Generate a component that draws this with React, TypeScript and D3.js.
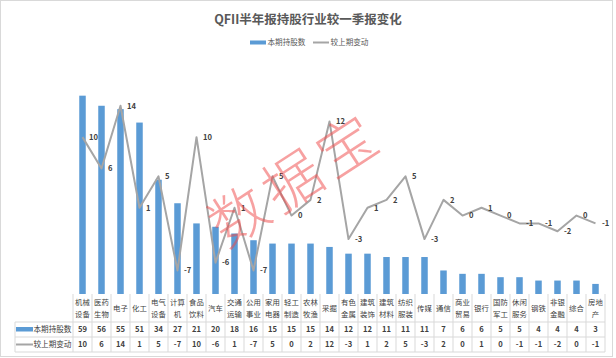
import React from "react";
import * as d3 from "d3";

const categories = ["机械设备","医药生物","电子","化工","电气设备","计算机","食品饮料","汽车","交通运输","公用事业","家用电器","轻工制造","农林牧渔","采掘","有色金属","建筑装饰","建筑材料","纺织服装","传媒","通信","商业贸易","银行","国防军工","休闲服务","钢铁","非银金融","综合","房地产"];
const holdings = [59,56,55,51,34,27,21,20,18,16,15,15,15,14,12,12,11,11,11,7,6,6,5,5,4,4,4,3];
const changes = [10,6,14,1,5,-7,10,-6,1,-7,5,0,2,12,-3,1,2,5,-3,2,0,1,0,-1,-1,-2,0,-1];
const seriesNames = ["本期持股数", "较上期变动"];
const title = "QFII半年报持股行业较一季报变化";
const watermark = "数据宝";

const W = 616, H = 358;
const left = 73, right = 605, plotTop = 58.7, plotBottom = 294;
const tableLeft = 15;
const rowY = [322, 337, 352];
const BAR = "#5B9BD5", LINE = "#A5A5A5", GRID = "#D9D9D9", TXT = "#404040";
const FONT = "'Noto Sans CJK SC', 'Noto Sans', sans-serif";

function splitLabel(s: string): string[] {
  if (s.length <= 2) return [s];
  return [s.slice(0, 2), s.slice(2)];
}

export default function App() {
  const x = d3.scaleBand<string>().domain(categories).range([left, right]).padding(0);
  const yBar = d3.scaleLinear().domain([0, 70]).range([plotBottom, plotTop]);
  const yLine = d3.scaleLinear().domain([-10, 20]).range([plotBottom, plotTop]);
  const cx = (c: string) => (x(c) as number) + x.bandwidth() / 2;
  const barW = 6.5;
  const lineGen = d3.line<number>().x((_, i) => cx(categories[i])).y((d) => yLine(d));

  return (
    <div style={{ position: "fixed", left: 0, top: 0 }}>
      <svg width={W} height={H} style={{ display: "block", fontFamily: FONT }}>
        <rect x={0} y={0} width={W} height={H} fill="#fff" />
        <rect x={0.5} y={0.5} width={612} height={356} fill="none" stroke={GRID} />
        <text x={308} y={23.5} textAnchor="middle" fontSize={12.5} fontWeight="bold" fill="#595959">{title}</text>
        {/* legend */}
        <rect x={250} y={40.5} width={16} height={4} fill={BAR} />
        <text x={267.5} y={45} fontSize={7.6} fill="#595959">{seriesNames[0]}</text>
        <line x1={313} x2={329} y1={42.5} y2={42.5} stroke={LINE} strokeWidth={2} />
        <text x={330.5} y={45} fontSize={7.6} fill="#595959">{seriesNames[1]}</text>
        {/* bars */}
        {categories.map((c, i) => (
          <rect key={c} x={cx(c) - barW / 2} y={yBar(holdings[i])} width={barW} height={plotBottom - yBar(holdings[i])} fill={BAR} />
        ))}
        {/* line */}
        <path d={lineGen(changes) || ""} fill="none" stroke={LINE} strokeWidth={2} strokeLinejoin="round" />
        {categories.map((c, i) => (
          <text key={"l" + c} x={cx(c) + 6.5} y={yLine(changes[i]) + 2.8} fontSize={7.6} fontWeight="bold" fill={TXT}>{changes[i]}</text>
        ))}
        {/* table */}
        {rowY.map((y) => (
          <line key={"h" + y} x1={tableLeft} x2={right} y1={y} y2={y} stroke={GRID} strokeWidth={1} />
        ))}
        <line x1={tableLeft} x2={tableLeft} y1={rowY[0]} y2={rowY[2]} stroke={GRID} />
        {d3.range(categories.length + 1).map((k) => {
          const xx = left + k * x.bandwidth();
          return <line key={"v" + k} x1={xx} x2={xx} y1={plotBottom} y2={rowY[2]} stroke={GRID} />;
        })}
        {categories.map((c) => {
          const lines = splitLabel(c);
          return (
            <text key={"c" + c} x={cx(c)} textAnchor="middle" fontSize={7.4} fill={TXT}>
              {lines.length === 1 ? (
                <tspan x={cx(c)} y={310.5}>{lines[0]}</tspan>
              ) : (
                <>
                  <tspan x={cx(c)} y={304.5}>{lines[0]}</tspan>
                  <tspan x={cx(c)} y={316.5}>{lines[1]}</tspan>
                </>
              )}
            </text>
          );
        })}
        {categories.map((c, i) => (
          <text key={"v1" + c} x={cx(c)} y={332.3} textAnchor="middle" fontSize={7.6} fontWeight="bold" fill={TXT}>{holdings[i]}</text>
        ))}
        {categories.map((c, i) => (
          <text key={"v2" + c} x={cx(c)} y={347.3} textAnchor="middle" fontSize={7.6} fontWeight="bold" fill={TXT}>{changes[i]}</text>
        ))}
        <rect x={16} y={327} width={17} height={4.5} fill={BAR} />
        <text x={33.5} y={332.3} fontSize={7.6} fill={TXT}>{seriesNames[0]}</text>
        <line x1={16} x2={33} y1={344.5} y2={344.5} stroke={LINE} strokeWidth={2} />
        <text x={33.5} y={347.3} fontSize={7.6} fill={TXT}>{seriesNames[1]}</text>
        {/* watermark */}
        <text x={293} y={176} textAnchor="middle" dominantBaseline="central" fontSize={58} fontWeight={300} fill="rgb(240,70,70)" opacity={0.5} transform="rotate(-33 293 176)" letterSpacing={6}>{watermark}</text>
      </svg>
    </div>
  );
}
